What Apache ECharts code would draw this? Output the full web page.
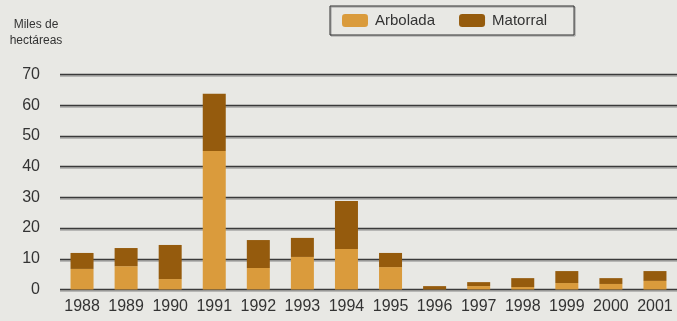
<!DOCTYPE html>
<html>
<head>
<meta charset="utf-8">
<script src="https://cdn.jsdelivr.net/npm/echarts@6/dist/echarts.min.js"></script>
<style>
  html, body { margin: 0; padding: 0; background: #E8E8E4; }
  #chart { width: 677px; height: 321px; }
</style>
</head>
<body>
<div id="chart"></div>
<script>
// Superficie afectada por incendios, en miles de hectáreas
const years = ['1988', '1989', '1990', '1991', '1992', '1993', '1994', '1995', '1996', '1997', '1998', '1999', '2000', '2001'];
const arbolada = [6.7, 7.6, 3.4, 45.1, 7.0, 10.6, 13.2, 7.3, 0.1, 1.1, 0.8, 2.1, 1.8, 2.8];
const matorral = [5.2, 5.9, 11.1, 18.6, 9.1, 6.2, 15.6, 4.6, 1.0, 1.3, 2.9, 3.9, 1.9, 3.2];
const seriesNames = ['Arbolada', 'Matorral'];
const unitLabel = 'Miles de\nhectáreas';

const chart = echarts.init(document.getElementById('chart'), null, { renderer: 'canvas' });
const font = 'Liberation Sans, Arial, sans-serif';

chart.setOption({
  backgroundColor: '#E8E8E4',
  animation: false,
  textStyle: { fontFamily: font, color: '#333' },
  legend: {
    left: 330,
    top: 6,
    padding: [7, 27, 7, 12],
    itemWidth: 26,
    itemHeight: 13,
    itemGap: 24,
    borderColor: '#2e2e2e',
    borderWidth: 1,
    shadowColor: '#999',
    shadowOffsetX: 1,
    shadowOffsetY: 1,
    textStyle: { fontSize: 15, color: '#333', fontFamily: font, padding: [0, 0, 0, 2] },
    data: seriesNames
  },
  graphic: [{
    type: 'text',
    x: 36,
    y: 17,
    style: {
      text: unitLabel,
      textAlign: 'center',
      fontSize: 12,
      lineHeight: 16,
      fontFamily: font,
      fill: '#333'
    }
  }],
  grid: { left: 60, right: 0, top: 74.5, bottom: 31.5 },
  xAxis: {
    type: 'category',
    data: years,
    axisLine: { show: false },
    axisTick: { show: false },
    axisLabel: { fontSize: 16, color: '#333', margin: 9, interval: 0, hideOverlap: false }
  },
  yAxis: {
    type: 'value',
    min: 0,
    max: 70,
    interval: 10,
    axisLine: { show: false },
    axisTick: { show: false },
    axisLabel: { fontSize: 16, color: '#333', margin: 20 },
    splitLine: {
      lineStyle: {
        color: '#3a3a3a',
        width: 1.3,
        shadowColor: 'rgba(140,140,140,0.7)',
        shadowOffsetY: 1.5,
        shadowBlur: 0
      }
    }
  },
  series: [
    {
      name: seriesNames[0],
      type: 'bar',
      stack: 'total',
      barWidth: 23,
      itemStyle: { color: '#DA9B3C' },
      data: arbolada
    },
    {
      name: seriesNames[1],
      type: 'bar',
      stack: 'total',
      barWidth: 23,
      itemStyle: { color: '#955B0D' },
      data: matorral
    }
  ]
});
</script>
</body>
</html>
